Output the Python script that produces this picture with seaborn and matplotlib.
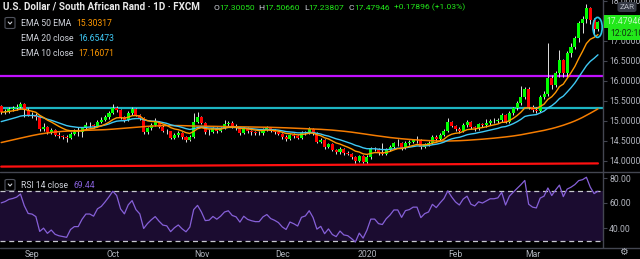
import numpy as np
import pandas as pd
import matplotlib
matplotlib.use("Agg")
import matplotlib.pyplot as plt
import seaborn as sns
from matplotlib.patches import Ellipse, FancyBboxPatch
from matplotlib.lines import Line2D

# ---------------- data ----------------
start_date = "2019-08-21"
first_open = 15.37
closes = [
    15.22, 15.25, 15.30, 15.32, 15.35, 15.42, 15.27, 15.15, 15.14, 15.10,
    14.80, 14.85, 14.72, 14.77, 14.66, 14.62, 14.60, 14.58, 14.68, 14.72,
    14.72, 14.82, 14.90, 14.90, 14.87, 14.98, 15.02, 15.10, 15.20, 15.33,
    15.28, 15.10, 15.02, 15.20, 15.30, 15.15, 15.07, 14.72, 14.82, 14.90,
    14.97, 14.86, 14.76, 14.74, 14.58, 14.65, 14.70, 14.60, 14.52, 14.60,
    14.98, 15.10, 14.95, 14.72, 14.73, 14.82, 14.75, 14.82, 14.92, 14.95,
    14.85, 14.82, 14.70, 14.82, 14.75, 14.72, 14.70, 14.70, 14.78, 14.82,
    14.75, 14.72, 14.68, 14.60, 14.55, 14.65, 14.62, 14.58, 14.70, 14.72,
    14.80, 14.70, 14.48, 14.52, 14.35, 14.42, 14.28, 14.22, 14.30, 14.20,
    14.18, 14.10, 14.00, 14.12, 13.98, 14.10, 14.30, 14.30, 14.20, 14.18,
    14.28, 14.35, 14.45, 14.45, 14.32, 14.45, 14.47, 14.52, 14.52, 14.35,
    14.42, 14.45, 14.60, 14.55, 14.65, 14.75, 14.97, 14.88, 14.80, 14.75,
    14.90, 14.98, 14.85, 14.82, 14.92, 14.90, 14.95, 15.00, 15.00, 15.02,
    15.15, 14.98, 15.20, 15.32, 15.45, 15.60, 15.80, 15.35, 15.28, 15.26,
    15.60, 15.68, 16.08, 15.90, 16.20, 16.52, 16.20, 16.70, 16.85, 17.07,
    17.45, 17.55, 17.82, 17.52, 17.3005, 17.47946,
]
highs = [
    15.40, 15.30, 15.34, 15.38, 15.42, 15.47, 15.45, 15.32, 15.22, 15.20,
    15.12, 14.95, 14.88, 14.82, 14.80, 14.72, 14.66, 14.64, 14.72, 14.80,
    14.85, 14.86, 14.97, 14.97, 14.93, 15.02, 15.10, 15.16, 15.24, 15.42,
    15.38, 15.30, 15.12, 15.24, 15.36, 15.33, 15.18, 15.10, 14.86, 14.95,
    15.08, 15.00, 14.90, 14.80, 14.76, 14.70, 14.74, 14.72, 14.62, 14.64,
    15.20, 15.22, 15.12, 14.97, 14.80, 14.86, 14.85, 14.86, 15.02, 15.00,
    15.00, 14.92, 14.84, 14.86, 14.84, 14.78, 14.76, 14.76, 14.82, 14.87,
    14.86, 14.80, 14.76, 14.70, 14.64, 14.68, 14.70, 14.66, 14.74, 14.76,
    14.84, 14.82, 14.72, 14.58, 14.55, 14.46, 14.44, 14.30, 14.34, 14.32,
    14.24, 14.20, 14.12, 14.15, 14.14, 14.14, 14.34, 14.36, 14.32, 14.44,
    14.32, 14.40, 14.48, 14.55, 14.48, 14.50, 14.52, 14.56, 14.62, 14.55,
    14.46, 14.50, 14.64, 14.66, 14.70, 14.80, 15.07, 15.00, 14.90, 14.84,
    14.94, 15.02, 15.00, 14.88, 14.96, 14.96, 15.04, 15.04, 15.08, 15.08,
    15.20, 15.18, 15.24, 15.36, 15.50, 15.87, 15.86, 15.84, 15.40, 15.34,
    15.66, 15.74, 16.95, 16.14, 16.26, 16.78, 16.56, 16.75, 16.95, 17.12,
    17.50, 17.62, 17.92, 17.86, 17.58, 17.5066,
]
lows = [
    15.18, 15.17, 15.20, 15.26, 15.28, 15.30, 15.10, 15.12, 15.08, 15.02,
    14.76, 14.76, 14.68, 14.68, 14.62, 14.58, 14.55, 14.48, 14.55, 14.65,
    14.62, 14.60, 14.80, 14.85, 14.82, 14.84, 14.95, 15.00, 15.06, 15.18,
    15.22, 15.06, 14.98, 15.00, 15.16, 15.12, 15.02, 14.68, 14.68, 14.78,
    14.88, 14.82, 14.72, 14.68, 14.55, 14.54, 14.60, 14.56, 14.48, 14.50,
    14.58, 14.95, 14.92, 14.68, 14.66, 14.70, 14.70, 14.72, 14.80, 14.88,
    14.82, 14.78, 14.66, 14.68, 14.70, 14.66, 14.65, 14.64, 14.66, 14.74,
    14.72, 14.68, 14.64, 14.56, 14.50, 14.52, 14.58, 14.54, 14.56, 14.66,
    14.68, 14.66, 14.44, 14.44, 14.30, 14.32, 14.24, 14.18, 14.18, 14.16,
    14.14, 14.06, 13.96, 13.97, 13.94, 13.95, 14.06, 14.24, 14.16, 14.14,
    14.15, 14.25, 14.32, 14.38, 14.28, 14.30, 14.40, 14.44, 14.46, 14.30,
    14.32, 14.38, 14.42, 14.50, 14.52, 14.62, 14.72, 14.84, 14.76, 14.70,
    14.72, 14.86, 14.80, 14.76, 14.78, 14.84, 14.86, 14.90, 14.94, 14.96,
    14.98, 14.94, 14.96, 15.16, 15.28, 15.40, 15.55, 15.30, 15.22, 15.20,
    15.22, 15.54, 15.62, 15.80, 15.84, 16.10, 16.10, 16.10, 16.60, 16.80,
    16.98, 17.20, 17.45, 17.42, 17.15, 17.23807,
]
# EMA 10 and EMA 20 of close; "EMA 50 EMA" is an EMA 50 of the EMA 20 line
ema10_seed = 15.22
ema20_seed = 14.96
ema50_seed = 14.44
rsi_period = 14
rsi_seed_gain, rsi_seed_loss = 0.055, 0.025
magenta_level = 16.125
teal_level = 15.33
red_trend = [13.86, 13.94]
month_labels = ["Sep", "Oct", "Nov", "Dec", "2020", "Feb", "Mar"]
price_ticks = [14.0, 14.5, 15.0, 15.5, 16.0, 16.5, 17.0, 17.5, 18.0]
rsi_ticks = [40, 60, 80]

# ---------------- derived series ----------------
n = len(closes)
idx = np.arange(n)
dates = pd.bdate_range(start_date, periods=n)
c = np.array(closes)
o = np.array([first_open] + closes[:-1])
h = np.array(highs)
l = np.array(lows)

def ema(vals, period, seed):
    a = 2.0 / (period + 1)
    out, prev = [], seed
    for v in vals:
        prev = a * v + (1 - a) * prev
        out.append(prev)
    return np.array(out)

ema10 = ema(c, 10, ema10_seed)
ema20 = ema(c, 20, ema20_seed)
ema50 = ema(ema20, 50, ema50_seed)

diff = np.diff(np.concatenate([[first_open], c]))
ag, al = rsi_seed_gain, rsi_seed_loss
rsi = []
for d in diff:
    ag = (ag * (rsi_period - 1) + max(d, 0)) / rsi_period
    al = (al * (rsi_period - 1) + max(-d, 0)) / rsi_period
    rsi.append(100 - 100 / (1 + ag / al))
rsi = np.array(rsi)

df = pd.DataFrame({"i": idx, "date": dates, "ema10": ema10, "ema20": ema20,
                   "ema50": ema50, "rsi": rsi})

# ---------------- figure ----------------
W, H = 640, 259
sns.set_theme(style="dark", rc={"axes.facecolor": "black", "figure.facecolor": "black",
                                "axes.grid": False})
plt.rcParams["font.family"] = ["Roboto", "DejaVu Sans"]
fig = plt.figure(figsize=(W / 100, H / 100), dpi=100)
fig.patch.set_facecolor("black")

axw = 603 / W
ax = fig.add_axes([0, 1 - 171 / H, axw, 171 / H])
ax2 = fig.add_axes([0, 1 - 247 / H, axw, 75 / H])

px_per = 3.85
x0 = -1.2 / px_per
x1 = x0 + 603 / px_per
grid_col = "#434651"
lab_col = "#b2b5be"

for a in (ax, ax2):
    a.set_facecolor("black")
    a.set_xlim(x0, x1)
    for s in ("left", "top", "bottom"):
        a.spines[s].set_visible(False)
    a.spines["right"].set_color(grid_col)
    a.spines["right"].set_linewidth(1)
    a.yaxis.tick_right()
    a.tick_params(axis="y", colors=grid_col, labelcolor=lab_col, labelsize=6.2,
                  length=3, width=0.8, pad=1.5, direction="out")

# price panel
ax.set_ylim(13.75, 18.025)
up = c >= o
ax.vlines(idx, l, h, color="#e0e0e0", lw=0.7, zorder=2)
body_b = np.minimum(o, c)
body_h = np.maximum(np.abs(c - o), 0.012)
ax.bar(idx[up], body_h[up], bottom=body_b[up], width=0.78, color="#00ff00", lw=0, zorder=3)
ax.bar(idx[~up], body_h[~up], bottom=body_b[~up], width=0.78, color="#ff0000", lw=0, zorder=3)

sns.lineplot(data=df, x="i", y="ema50", ax=ax, color="#f57c00", lw=1.1, zorder=4)
sns.lineplot(data=df, x="i", y="ema20", ax=ax, color="#3fc8f4", lw=1.0, zorder=4)
sns.lineplot(data=df, x="i", y="ema10", ax=ax, color="#ff9800", lw=1.0, zorder=5)

ax.axhline(magenta_level, color="#c010ff", lw=1.6, zorder=1)
ax.axhline(teal_level, color="#1cb5c2", lw=1.6, zorder=1)
ax.plot([0, n - 1], red_trend, color="#ff1010", lw=1.6, zorder=1)
ax.add_patch(Ellipse((n - 1 - 0.1, 17.34), 2.4, 0.5, fill=False, ec="#29c5e6", lw=1.2, zorder=6))

ax.set_yticks(price_ticks)
ax.set_yticklabels([f"{v:.5f}" for v in price_ticks])
ax.set_xticks([])
ax.set_xlabel("")
ax.set_ylabel("")

# RSI panel
ax2.set_ylim(24.8, 84.8)
ax2.axhspan(30, 70, color="#1b0c30", lw=0, zorder=0)
ax2.axhline(70, color="#c8c8d0", lw=0.9, ls=(0, (4, 3)), zorder=1)
ax2.axhline(30, color="#c8c8d0", lw=0.9, ls=(0, (4, 3)), zorder=1)
sns.lineplot(data=df, x="i", y="rsi", ax=ax2, color="#8660d8", lw=0.9, zorder=3)
ax2.set_yticks(rsi_ticks)
ax2.set_yticklabels([f"{v:.2f}" for v in rsi_ticks])
month_start = df.groupby(df["date"].dt.to_period("M"))["i"].min().values
month_start = [m for m in month_start if dates[m].day <= 3]
ax2.set_xticks(month_start)
ax2.set_xticklabels(month_labels)
ax2.tick_params(axis="x", length=0, pad=2.5, labelsize=6.2, labelcolor=lab_col)
ax2.set_xlabel("")
ax2.set_ylabel("")

# separators
for yy in (171.5, 247.5):
    fig.add_artist(Line2D([0, 1], [1 - yy / H] * 2, color=grid_col, lw=1))

# ---------------- header texts ----------------
fig.canvas.draw()
rend = fig.canvas.get_renderer()

def run(x_px, y_px, pieces, size, weight="normal"):
    x = x_px
    for s, col in pieces:
        t = fig.text(x / W, 1 - y_px / H, s, color=col, fontsize=size, weight=weight,
                     va="center", ha="left")
        x += t.get_window_extent(rend).width
    return x

white = "#d1d4dc"
green = "#22e81a"
run(3, 7, [("U.S. Dollar / South African Rand · 1D · FXCM", "#e8e8e8")], 7.1, "bold")
xx = 213
for lbl, val in [("O", "17.30050"), ("H", "17.50660"), ("L", "17.23807"), ("C", "17.47946")]:
    xx = run(xx, 7.5, [(lbl, white), (val, green)], 6.1) + 4
run(xx, 7.5, [("+0.17896 (+1.03%)", green)], 6.1)

def chevron_box(y_px):
    fig.add_artist(FancyBboxPatch((5 / W, 1 - (y_px + 5.5) / H), 10 / W, 11 / H,
                                  boxstyle="round,pad=0,rounding_size=0.004",
                                  fc="black", ec="#50535e", lw=0.8, transform=fig.transFigure))
    fig.add_artist(Line2D([8.2 / W, 10 / W, 11.8 / W],
                          [1 - (y_px - 1) / H, 1 - (y_px + 1) / H, 1 - (y_px - 1) / H],
                          color=white, lw=0.8))

chevron_box(23)
legend_rows = [(23, "EMA 50 EMA", ema50[-1], "#ff9800"),
               (38.5, "EMA 20 close", ema20[-1], "#3fc8f4"),
               (54, "EMA 10 close", ema10[-1], "#ff9800")]
for y_px, name, val, col in legend_rows:
    e = run(21, y_px, [(name, white)], 6.2)
    run(e + 5, y_px, [(f"{val:.5f}", col)], 6.2)

chevron_box(185)
e = run(21, 185, [("RSI 14 close", white)], 6.2)
run(e + 5, 185, [(f"{rsi[-1]:.2f}", "#8660d8")], 6.2)

# right side badges
fig.text(627 / W, 1 - 7 / H, "ZAR", color=lab_col, fontsize=5.8, ha="center", va="center",
         bbox=dict(boxstyle="round,pad=0.25,rounding_size=0.3", fc="#363a45", ec="none"))
fig.text(606 / W, 1 - 21.5 / H, f"{closes[-1]:.5f}", color="#bff7bf", fontsize=6.2,
         ha="left", va="center",
         bbox=dict(boxstyle="square,pad=0.2", fc="#22e81a", ec="none"))
fig.text(610 / W, 1 - 33.5 / H, "12:02:10", color="#103010", fontsize=6.2,
         ha="left", va="center",
         bbox=dict(boxstyle="square,pad=0.2", fc="#22e81a", ec="none"))
fig.text(623 / W, 1 - 252 / H, "\u2699", color=lab_col, fontsize=7, ha="center", va="center",
         family="DejaVu Sans")

fig.savefig("out.png", dpi=100, facecolor="black")
